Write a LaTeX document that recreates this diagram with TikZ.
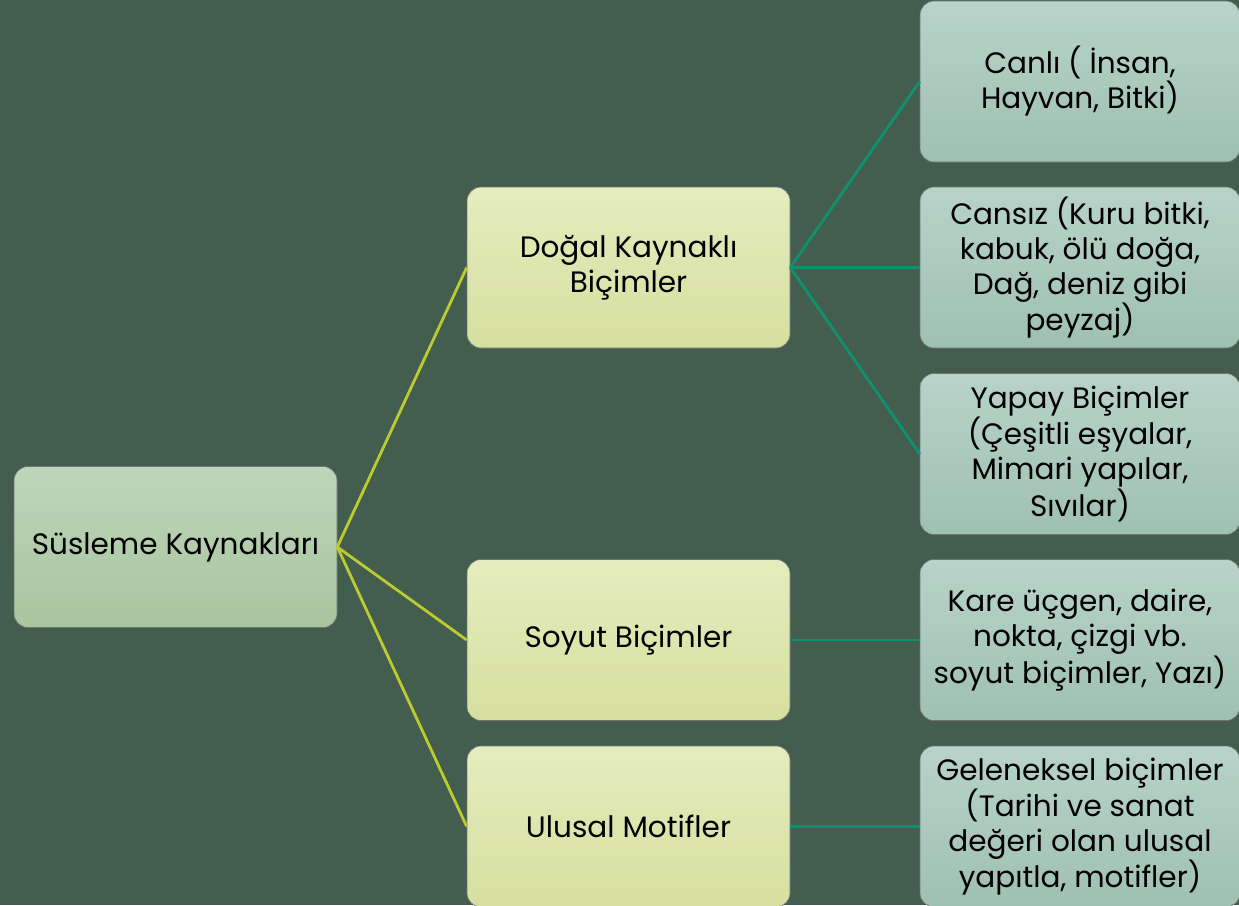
\documentclass[tikz,border=0pt]{standalone}
\usepackage{fontspec}
\setmainfont{Poppins}
\begin{document}
\begin{tikzpicture}[x=1pt,y=-1pt,
  box/.style={rounded corners=14pt,draw=black!55,line width=0.6pt,minimum width=323pt,minimum height=161pt,align=center,inner sep=1pt,font=\fontsize{29.5}{35}\selectfont,text=black},
  rootbox/.style={box,top color=rootTop,bottom color=rootBot},
  midbox/.style={box,top color=midTop,bottom color=midBot},
  leafbox/.style={box,minimum width=320pt,top color=leafTop,bottom color=leafBot},
  ylink/.style={draw=ylinkc,line width=2.8pt},
  tlink/.style={draw=tlinkc,line width=2.8pt}]
\definecolor{bg}{HTML}{435E4F}
\definecolor{rootTop}{HTML}{BDD5B9}
\definecolor{rootBot}{HTML}{A8C59F}
\definecolor{midTop}{HTML}{E5ECBF}
\definecolor{midBot}{HTML}{D6DF9E}
\definecolor{leafTop}{HTML}{B8D3C9}
\definecolor{leafBot}{HTML}{9EC0B1}
\definecolor{ylinkc}{HTML}{BCCB30}
\definecolor{tlinkc}{HTML}{0E9272}
\fill[bg] (0,0) rectangle (1239,905);
\useasboundingbox (0,0) rectangle (1239,905);
\node[rootbox] (root) at (175.5,547) {Süsleme Kaynakları};
\node[midbox] (dogal) at (628.5,267.5) {Doğal Kaynaklı\\Biçimler};
\node[midbox] (soyut) at (628.5,640) {Soyut Biçimler};
\node[midbox] (ulusal) at (628.5,826.5) {Ulusal Motifler};
\node[leafbox] (canli) at (1080,81.5) {Canlı ( İnsan,\\Hayvan, Bitki)};
\node[leafbox] (cansiz) at (1080,267.5) {Cansız (Kuru bitki,\\kabuk, ölü doğa,\\Dağ, deniz gibi\\peyzaj)};
\node[leafbox] (yapay) at (1080,454) {Yapay Biçimler\\(Çeşitli eşyalar,\\Mimari yapılar,\\Sıvılar)};
\node[leafbox] (kare) at (1080,640) {Kare üçgen, daire,\\nokta, çizgi vb.\\soyut biçimler, Yazı)};
\node[leafbox] (gelen) at (1080,826.5) {Geleneksel biçimler\\(Tarihi ve sanat\\değeri olan ulusal\\yapıtla, motifler)};
\draw[ylink] (root.east) -- (dogal.west);
\draw[ylink] (root.east) -- (soyut.west);
\draw[ylink] (root.east) -- (ulusal.west);
\draw[tlink] (dogal.east) -- (canli.west);
\draw[tlink] (dogal.east) -- (cansiz.west);
\draw[tlink] (dogal.east) -- (yapay.west);
\draw[tlink] (soyut.east) -- (kare.west);
\draw[tlink] (ulusal.east) -- (gelen.west);
\end{tikzpicture}
\end{document}
